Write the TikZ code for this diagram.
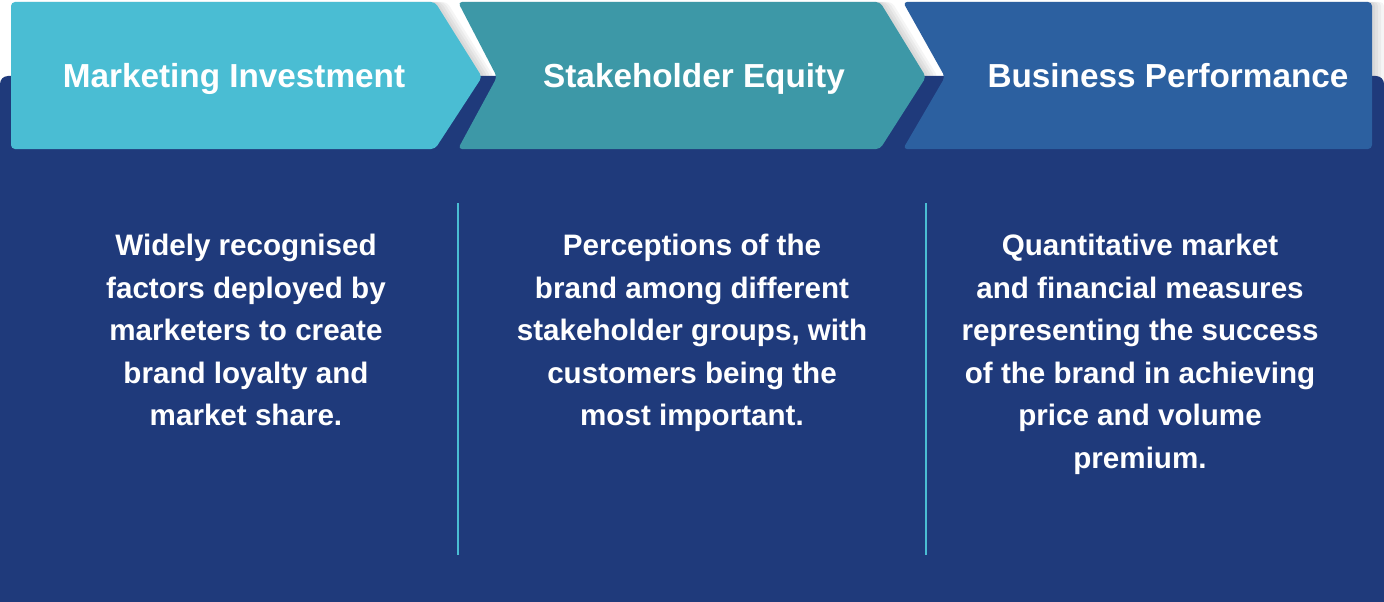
\documentclass[tikz,border=0pt]{standalone}
\usepackage{fontspec}
\setmainfont{Liberation Sans}
\definecolor{navy}{HTML}{1F3A7B}
\definecolor{cyanA}{HTML}{4ABDD3}
\definecolor{tealB}{HTML}{3D98A7}
\definecolor{blueC}{HTML}{2C60A0}
\tikzset{
  chev/.style={rounded corners=4pt},
  shadowshape/.style={fill=black, fill opacity=0.04, rounded corners=4pt},
  title/.style={text=white, font=\fontsize{33.3}{36}\selectfont\bfseries, inner sep=0pt, anchor=base},
  body/.style={text=white, font=\fontsize{29.6}{42.5}\selectfont\bfseries, align=center, anchor=north, inner sep=0pt},
  divider/.style={draw=cyanA, line width=2pt}
}
\begin{document}
\begin{tikzpicture}[x=1pt,y=-1pt]
\useasboundingbox (0,0) rectangle (1384,602);
\fill[white] (0,0) rectangle (1384,602);
% soft shadows
\foreach \s in {3,6,9,12}{
  \fill[shadowshape] (11+\s,2) -- (435+\s,2) -- (482+\s,77) -- (435+\s,149) -- (11+\s,149) -- cycle;
  \fill[shadowshape] (458+\s,2) -- (880+\s,2) -- (926+\s,77) -- (880+\s,149) -- (458+\s,149) -- (497+\s,77) -- cycle;
  \fill[shadowshape] (903+\s,2) -- (1372+\s,2) -- (1372+\s,149) -- (903+\s,149) -- (945+\s,77) -- cycle;
}
% background panel (rounded only at the top)
\fill[navy, rounded corners=8pt] (0,602) -- (0,76) -- (1384,76) -- (1384,602);
% chevrons
\fill[cyanA, chev] (11,2) -- (435,2) -- (482,77) -- (435,149) -- (11,149) -- cycle;
\fill[tealB, chev] (458,2) -- (880,2) -- (926,77) -- (880,149) -- (458,149) -- (497,77) -- cycle;
\fill[blueC, chev] (903,2) -- (1372,2) -- (1372,149) -- (903,149) -- (945,77) -- cycle;
% titles
\node[title] (t1) at (234,88) {Marketing Investment};
\node[title] (t2) at (694,88) {Stakeholder Equity};
\node[title] (t3) at (1168,88) {Business Performance};
% dividers
\coordinate (d1a) at (458,203); \coordinate (d1b) at (458,555);
\coordinate (d2a) at (926,203); \coordinate (d2b) at (926,555);
\draw[divider] (d1a) -- (d1b);
\draw[divider] (d2a) -- (d2b);
% body text
\node[body] (b1) at (246,234) {Widely recognised\\factors deployed by\\marketers to create\\brand loyalty and\\market share.};
\node[body] (b2) at (692,234) {Perceptions of the\\brand among different\\stakeholder groups, with\\customers being the\\most important.};
\node[body] (b3) at (1140,234) {Quantitative market\\and financial measures\\representing the success\\of the brand in achieving\\price and volume\\premium.};
\end{tikzpicture}
\end{document}
